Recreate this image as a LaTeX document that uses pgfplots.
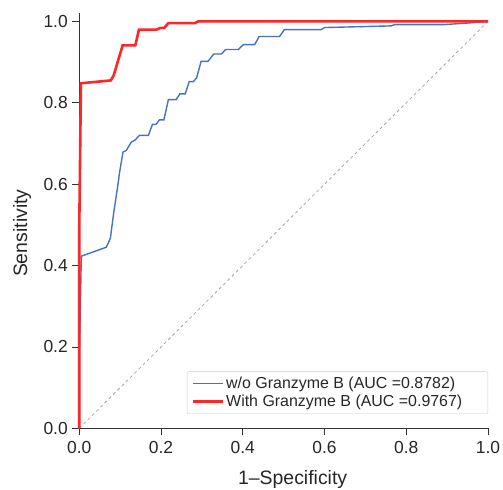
\documentclass[border=0pt]{standalone}
\usepackage{pgfplots}
\pgfplotsset{compat=1.18}
\usepackage{fontspec}
\setmainfont{Liberation Sans}
\definecolor{cblue}{HTML}{4472C4}
\definecolor{cred}{HTML}{FF2626}
\definecolor{axgray}{HTML}{333333}
\definecolor{txtgray}{HTML}{262626}
\begin{document}
\begin{tikzpicture}
\path[use as bounding box] (-79.3bp,-61.7bp) rectangle (423.7bp,428.3bp);
\begin{axis}[
  scale only axis,
  width=408.7bp, height=415bp,
  xmin=0, xmax=1, ymin=0, ymax=1.02,
  axis lines*=left,
  axis line style={axgray, line width=0.9bp},
  xtick={0,0.2,0.4,0.6,0.8,1.0},
  ytick={0,0.2,0.4,0.6,0.8,1.0},
  tick align=outside,
  major tick length=7bp,
  tick style={axgray, line width=0.8bp},
  /pgf/number format/assume math mode=true,
  /pgf/number format/fixed, /pgf/number format/fixed zerofill, /pgf/number format/precision=1,
  tick label style={font=\fontsize{17.5}{20}\selectfont, text=txtgray},
  xticklabel style={yshift=-3bp},
  yticklabel style={xshift=-1bp},
  xlabel={1–Specificity},
  ylabel={Sensitivity},
  every axis x label/.style={at={(axis description cs:0.522,0)}, anchor=center, yshift=-51bp,
    font=\fontsize{19.5}{22}\selectfont, text=txtgray},
  every axis y label/.style={at={(axis description cs:-0.14,0.47)}, rotate=90, anchor=center,
    font=\fontsize{19.5}{22}\selectfont, text=txtgray},
  legend style={at={(1,0.0345)}, anchor=south east, draw=black!20, rounded corners=2bp,
    font=\fontsize{16}{19}\selectfont, text=txtgray, inner xsep=5bp, inner ysep=4bp,
    row sep=2bp, nodes={inner sep=1.5bp}},
  legend cell align=left,
  legend image code/.code={\draw[#1] (0bp,0bp) -- (30bp,0bp);},
  clip=false,
]
\addplot[gray!70, dashed, line width=0.8bp, forget plot] coordinates {(0,0) (1,1)};
\addplot[cblue, line width=1.4bp] coordinates {
(0,0) (0,0.17) (0.005,0.423) (0.066,0.445) (0.076,0.467) (0.084,0.528) (0.096,0.609)
(0.098,0.626) (0.107,0.679) (0.115,0.683) (0.127,0.703) (0.137,0.709) (0.147,0.720)
(0.169,0.720) (0.179,0.747) (0.188,0.747) (0.196,0.758) (0.207,0.758) (0.218,0.808)
(0.237,0.808) (0.246,0.822) (0.259,0.822) (0.269,0.852) (0.279,0.852) (0.287,0.861)
(0.298,0.902) (0.315,0.902) (0.329,0.920) (0.348,0.920) (0.358,0.931) (0.389,0.931)
(0.401,0.943) (0.429,0.943) (0.440,0.963) (0.490,0.963) (0.502,0.980) (0.592,0.980)
(0.600,0.985) (0.763,0.989) (0.771,0.992) (0.889,0.992) (0.95,0.996) (1,1)
};
\addlegendentry{w/o Granzyme B (AUC =0.8782)\hspace*{19bp}}
\addplot[cred, line width=2.6bp] coordinates {
(0,0) (0,0.5) (0.004,0.848) (0.077,0.855) (0.084,0.867) (0.106,0.941) (0.137,0.941)
(0.146,0.980) (0.189,0.980) (0.198,0.984) (0.208,0.984) (0.218,0.996) (0.283,0.996)
(0.291,1.0) (1,1)
};
\addlegendentry{With Granzyme B (AUC =0.9767)\hspace*{19bp}}
\end{axis}
\end{tikzpicture}
\end{document}
